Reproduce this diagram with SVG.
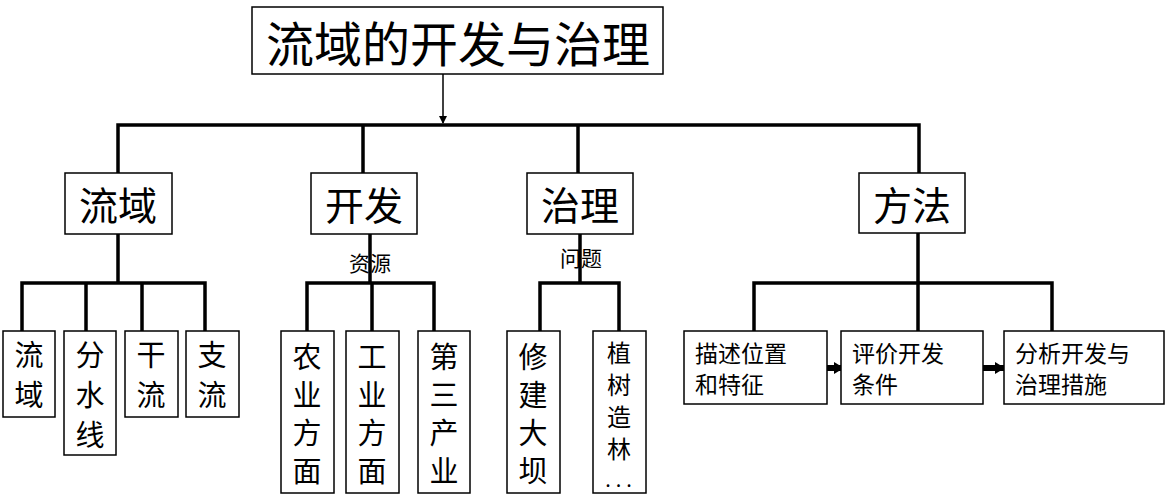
<svg xmlns="http://www.w3.org/2000/svg" width="1170" height="498" viewBox="0 0 1170 498">
<style>
.box{fill:#fff;stroke:#000;stroke-width:1.5}
.ln{fill:none;stroke:#000;stroke-width:3.5}
text{font-family:"Noto Sans CJK SC","Noto Sans CJK TC",sans-serif;fill:#000;text-anchor:middle;dominant-baseline:central}
.t0{font-size:48px}
.t1{font-size:39px}
.t2{font-size:29px}
.t3{font-size:24px}
.t4{font-size:23px;text-anchor:start}
.t5{font-size:21px}
.t6{font-size:20px}
</style>
<defs>
<marker id="ah" markerWidth="8" markerHeight="8" refX="7" refY="4" orient="auto" markerUnits="userSpaceOnUse">
<path d="M0,0 L8,4 L0,8 Z" fill="#000"/>
</marker>
<marker id="bh" markerWidth="10" markerHeight="12" refX="9" refY="6" orient="auto" markerUnits="userSpaceOnUse">
<path d="M0,0 L10,6 L0,12 Z" fill="#000"/>
</marker>
</defs>
<g id="connectors">
<line x1="443" y1="74" x2="443" y2="123" stroke="#000" stroke-width="1.5" marker-end="url(#ah)"/>
<path class="ln" d="M118,173 V125 H919 V173 M363,125 V173 M578,125 V173"/>
<path class="ln" d="M118,234 V283 M22,331 V283 H205 V331 M86,283 V331 M142,283 V331"/>
<path class="ln" d="M370,234 V283 M307,331 V283 H434 V331 M372,283 V331"/>
<path class="ln" d="M580,234 V283 M540,331 V283 H619 V331"/>
<path class="ln" d="M918,233 V331 M754,331 V283 H1052 V331"/>
<line x1="825" y1="368" x2="843" y2="368" stroke="#000" stroke-width="6" marker-end="url(#bh)"/>
<line x1="983" y1="368" x2="1004" y2="368" stroke="#000" stroke-width="6" marker-end="url(#bh)"/>
</g>
<g id="title"><rect class="box" x="252" y="7" width="411" height="67"/><text class="t0" x="458" y="41">流域的开发与治理</text></g>
<g id="n-liuyu"><rect class="box" x="65" y="173" width="107" height="61"/><text class="t1" x="118" y="203">流域</text></g>
<g id="n-kaifa"><rect class="box" x="311" y="173" width="106" height="61"/><text class="t1" x="364" y="203">开发</text></g>
<g id="n-zhili"><rect class="box" x="527" y="173" width="106" height="61"/><text class="t1" x="580" y="203">治理</text></g>
<g id="n-fangfa"><rect class="box" x="859" y="173" width="106" height="60"/><text class="t1" x="912" y="203">方法</text></g>
<g id="lbl-ziyuan"><text class="t5" x="370" y="262">资源</text></g>
<g id="lbl-wenti"><text class="t5" x="581" y="257">问题</text></g>
<g id="l-liuyu"><rect class="box" x="3" y="331" width="52" height="86"/><text class="t2" x="29" y="353">流</text><text class="t2" x="29" y="393">域</text></g>
<g id="l-fenshuixian"><rect class="box" x="64" y="331" width="52" height="124"/><text class="t2" x="90" y="353">分</text><text class="t2" x="90" y="393">水</text><text class="t2" x="90" y="433">线</text></g>
<g id="l-ganliu"><rect class="box" x="125" y="331" width="53" height="86"/><text class="t2" x="151" y="353">干</text><text class="t2" x="151" y="393">流</text></g>
<g id="l-zhiliu"><rect class="box" x="186" y="331" width="53" height="86"/><text class="t2" x="212" y="353">支</text><text class="t2" x="212" y="393">流</text></g>
<g id="l-nongye"><rect class="box" x="281" y="331" width="53" height="162"/><text class="t2" x="307" y="355">农</text><text class="t2" x="307" y="393">业</text><text class="t2" x="307" y="431">方</text><text class="t2" x="307" y="469">面</text></g>
<g id="l-gongye"><rect class="box" x="346" y="331" width="53" height="162"/><text class="t2" x="372" y="355">工</text><text class="t2" x="372" y="393">业</text><text class="t2" x="372" y="431">方</text><text class="t2" x="372" y="469">面</text></g>
<g id="l-disan"><rect class="box" x="418" y="331" width="52" height="162"/><text class="t2" x="444" y="355">第</text><text class="t2" x="444" y="393">三</text><text class="t2" x="444" y="431">产</text><text class="t2" x="444" y="469">业</text></g>
<g id="l-xiujian"><rect class="box" x="507" y="331" width="53" height="162"/><text class="t2" x="533" y="355">修</text><text class="t2" x="533" y="393">建</text><text class="t2" x="533" y="431">大</text><text class="t2" x="533" y="469">坝</text></g>
<g id="l-zhishu"><rect class="box" x="593" y="331" width="53" height="162"/><text class="t3" x="619" y="351">植</text><text class="t3" x="619" y="383">树</text><text class="t3" x="619" y="415">造</text><text class="t3" x="619" y="447">林</text><text class="t6" x="621" y="478" letter-spacing="5">...</text></g>
<g id="m1"><rect class="box" x="684" y="331" width="143" height="73"/><text class="t4" x="695" y="352">描述位置</text><text class="t4" x="695" y="383">和特征</text></g>
<g id="m2"><rect class="box" x="841" y="331" width="142" height="73"/><text class="t4" x="852" y="352">评价开发</text><text class="t4" x="852" y="383">条件</text></g>
<g id="m3"><rect class="box" x="1004" y="331" width="160" height="73"/><text class="t4" x="1015" y="352">分析开发与</text><text class="t4" x="1015" y="383">治理措施</text></g>
</svg>
